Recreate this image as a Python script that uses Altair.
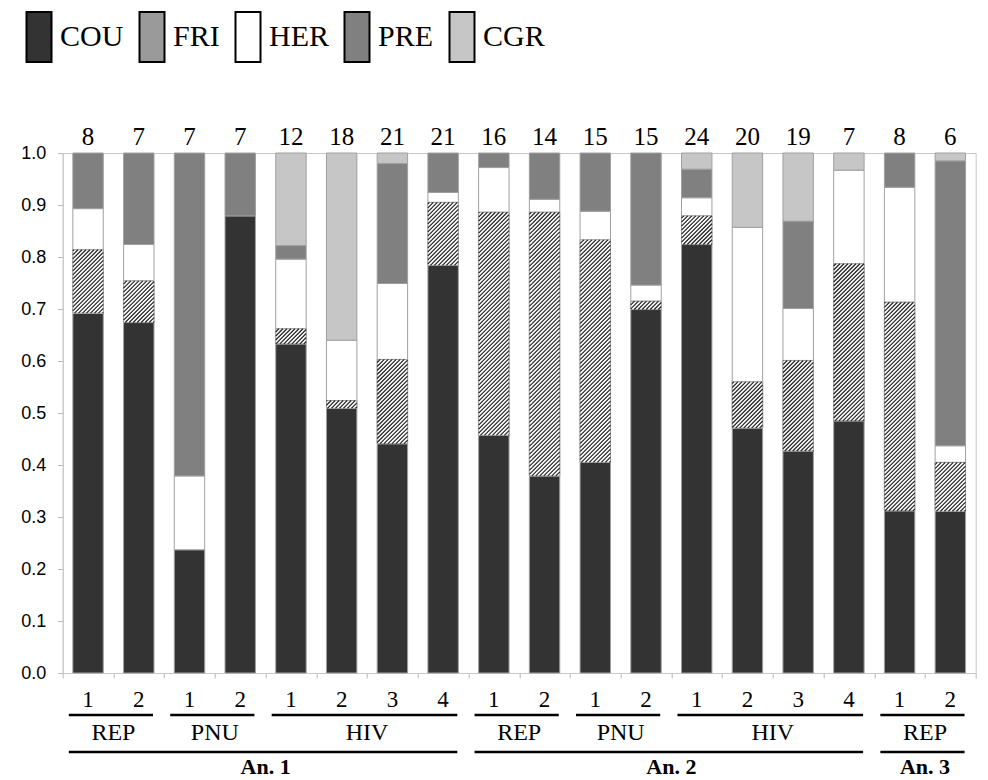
import altair as alt
import pandas as pd
import numpy as np

# ---------------- data ----------------
categories = ["COU", "FRI", "HER", "PRE", "CGR"]
bar_num = ["1", "2", "1", "2", "1", "2", "3", "4", "1", "2", "1", "2", "1", "2", "3", "4", "1", "2"]
groups = ["REP", "REP", "PNU", "PNU", "HIV", "HIV", "HIV", "HIV",
          "REP", "REP", "PNU", "PNU", "HIV", "HIV", "HIV", "HIV", "REP", "REP"]
years = ["An. 1"] * 8 + ["An. 2"] * 8 + ["An. 3"] * 2
counts = [8, 7, 7, 7, 12, 18, 21, 21, 16, 14, 15, 15, 24, 20, 19, 7, 8, 6]

COU = [0.692, 0.674, 0.237, 0.879, 0.633, 0.509, 0.441, 0.784, 0.457,
       0.379, 0.405, 0.699, 0.824, 0.471, 0.427, 0.485, 0.312, 0.311]
FRI = [0.122, 0.080, 0.000, 0.000, 0.029, 0.015, 0.162, 0.121, 0.429,
       0.507, 0.428, 0.016, 0.055, 0.089, 0.174, 0.302, 0.401, 0.094]
HER = [0.079, 0.070, 0.142, 0.000, 0.134, 0.116, 0.146, 0.019, 0.086,
       0.025, 0.055, 0.031, 0.035, 0.297, 0.100, 0.180, 0.221, 0.032]
PRE = [0.107, 0.176, 0.621, 0.121, 0.026, 0.000, 0.231, 0.076, 0.028,
       0.089, 0.112, 0.254, 0.055, 0.000, 0.168, 0.000, 0.066, 0.548]
CGR = [0.000, 0.000, 0.000, 0.000, 0.178, 0.360, 0.020, 0.000, 0.000,
       0.000, 0.000, 0.000, 0.031, 0.143, 0.131, 0.033, 0.000, 0.015]

colors = ["#333333", "#9a9a9a", "#ffffff", "#808080", "#c6c6c6"]

# ---------------- layout constants ----------------
W, H = 913, 520
N = len(counts)
BAR_L, BAR_R = 0.2, 0.8
serif = "Liberation Serif"

# ---------------- tables ----------------
series = dict(zip(categories, [COU, FRI, HER, PRE, CGR]))
rows = []
for i in range(N):
    cum = 0.0
    for c in categories:
        v = series[c][i]
        if v > 0:
            rows.append(dict(cat=c, x0=i + BAR_L, x1=i + BAR_R, y0=cum, y1=cum + v))
            cum += v
seg = pd.DataFrame(rows)

bars = pd.DataFrame(dict(xc=np.arange(N) + 0.5, n=[str(c) for c in counts], num=bar_num,
                         ytop=1.0, ybot=0.0))

def runs(labels):
    out = []
    start = 0
    for i in range(1, N + 1):
        if i == N or labels[i] != labels[start]:
            out.append(dict(label=labels[start].split("|")[-1], a=start + 0.12, b=i - 0.22,
                            c=(start + i) / 2, ybot=0.0))
            start = i
    return pd.DataFrame(out)

grp = runs([y + "|" + g for y, g in zip(years, groups)])
yrs = runs(years)

# hatch lines for FRI segments (45 deg, computed in pixel space from the data)
ux, uy = W / N, H
s = 4.0
hl = []
for _, r in seg[seg.cat == "FRI"].iterrows():
    X0, X1, Y0, Y1 = r.x0 * ux, r.x1 * ux, r.y0 * uy, r.y1 * uy
    k0 = int(np.ceil((Y0 - X1) / s))
    k1 = int(np.floor((Y1 - X0) / s))
    for k in range(k0, k1 + 1):
        c = k * s
        pa = max(X0, Y0 - c)
        pb = min(X1, Y1 - c)
        if pb - pa > 0.1:
            hl.append(dict(hx=pa / ux, hy=(pa + c) / uy, hx2=pb / ux, hy2=(pb + c) / uy))
hatch = pd.DataFrame(hl)

# ---------------- chart ----------------
xscale = alt.Scale(domain=[0, N], nice=False, zero=False)
yscale = alt.Scale(domain=[0, 1], nice=False)
xaxis = alt.Axis(values=list(range(N + 1)), labels=False, title=None, grid=False,
                 tickColor="#b8b8b8", tickSize=5, domainColor="#c8c8c8")
yaxis = alt.Axis(values=[round(v * 0.1, 1) for v in range(11)], format=".1f", title=None,
                 grid=False, labelFont="Liberation Sans", labelFontSize=18,
                 labelColor="black", tickColor="#b8b8b8", tickSize=5,
                 domainColor="#c8c8c8", labelPadding=12)

def X(f):
    return alt.X(f, scale=xscale, axis=xaxis, title=None)

def Y(f):
    return alt.Y(f, scale=yscale, axis=yaxis, title=None)

base_rect = alt.Chart(seg).mark_rect(stroke="#a0a0a0", strokeWidth=1).encode(
    x=X("x0:Q"), x2="x1:Q", y=Y("y0:Q"), y2="y1:Q",
    fill=alt.Fill("cat:N", scale=alt.Scale(domain=categories, range=colors),
                  legend=alt.Legend(title=None, orient="none", legendX=-38.7, legendY=-131,
                                    direction="horizontal",
                                    symbolType="M-1,-2H1V2H-1Z", symbolSize=625,
                                    symbolStrokeColor="black", symbolStrokeWidth=2,
                                    symbolOpacity=1, labelFont=serif, labelFontSize=30,
                                    labelColor="black", labelOffset=6, columnPadding=11,
                                    padding=0)),
)

fri_white = alt.Chart(seg[seg.cat == "FRI"]).mark_rect(fill="white", stroke="#a0a0a0", strokeWidth=1).encode(
    x=X("x0:Q"), x2="x1:Q", y=Y("y0:Q"), y2="y1:Q",
)

hatch_layer = alt.Chart(hatch).mark_rule(color="#222222", strokeWidth=1.2).encode(
    x=X("hx:Q"), x2="hx2:Q", y=Y("hy:Q"), y2="hy2:Q",
)

count_text = alt.Chart(bars).mark_text(font=serif, fontSize=25, color="black", baseline="alphabetic", dy=-8).encode(
    x=X("xc:Q"), y=Y("ytop:Q"), text="n:N",
)

num_text = alt.Chart(bars).mark_text(font=serif, fontSize=23, color="black", baseline="alphabetic", dy=34).encode(
    x=X("xc:Q"), y=Y("ybot:Q"), text="num:N",
)

grp_rule = alt.Chart(grp).mark_rule(color="black", strokeWidth=2.5, yOffset=42).encode(
    x=X("a:Q"), x2="b:Q", y=Y("ybot:Q"),
)
grp_text = alt.Chart(grp).mark_text(font=serif, fontSize=24, color="black", baseline="alphabetic", dy=67).encode(
    x=X("c:Q"), y=Y("ybot:Q"), text="label:N",
)
yr_rule = alt.Chart(yrs).mark_rule(color="black", strokeWidth=2.5, yOffset=79).encode(
    x=X("a:Q"), x2="b:Q", y=Y("ybot:Q"),
)
yr_text = alt.Chart(yrs).mark_text(font=serif, fontSize=22, fontWeight="bold", color="black", baseline="alphabetic", dy=101).encode(
    x=X("c:Q"), y=Y("ybot:Q"), text="label:N",
)

chart = alt.layer(
    base_rect, fri_white, hatch_layer, count_text, num_text, grp_rule, grp_text, yr_rule, yr_text
).properties(
    width=W, height=H,
    autosize=alt.AutoSizeParams(type="none"),
    padding={"left": 62.7, "top": 153, "right": 12.3, "bottom": 107},
    background="white",
).configure_view(stroke="#c8c8c8")

chart.save("out.html", embed_options={"renderer": "svg", "actions": False})
